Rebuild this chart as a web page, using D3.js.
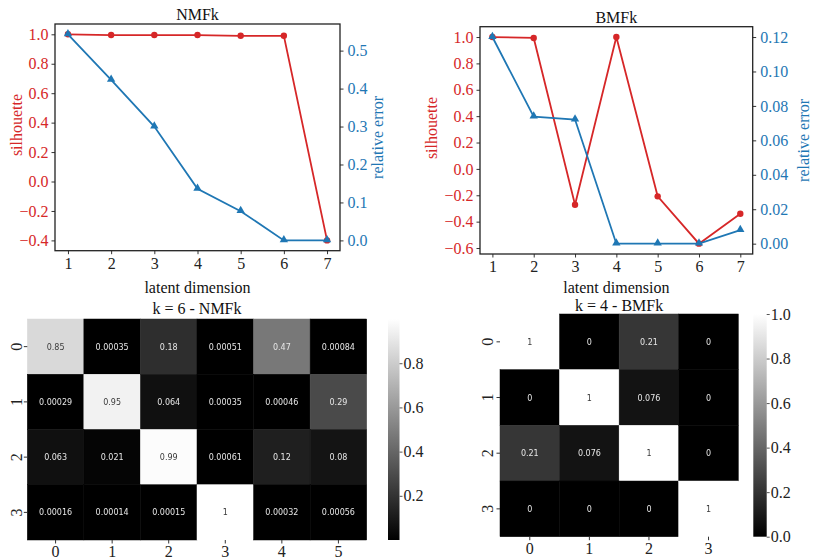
<!DOCTYPE html>
<html lang="en">
<head>
<meta charset="utf-8">
<title>NMFk vs BMFk</title>
<script src="https://cdn.jsdelivr.net/npm/d3@7"></script>
<style>
body { margin: 0; background: #fff; }
</style>
</head>
<body>
<script>
var W = 813, H = 559;
var RED = "#d62728", BLUE = "#1f77b4";
var FS = 16; // label font size

// data
var dims = [1, 2, 3, 4, 5, 6, 7];
var nmfSil = [1.0, 0.995, 0.995, 0.995, 0.99, 0.99, -0.40];
var nmfErr = [0.543, 0.423, 0.300, 0.136, 0.077, 0.0, 0.0];
var bmfSil = [1.0, 0.993, -0.272, 1.0, -0.208, -0.567, -0.34];
var bmfErr = [0.12, 0.0738, 0.0721, 0.0, 0.0, 0.0, 0.0079];

var nmfRows = ["0", "1", "2", "3"];
var nmfCols = ["0", "1", "2", "3", "4", "5"];
var nmfVals = [
  [0.85, 0.00035, 0.18, 0.00051, 0.47, 0.00084],
  [0.00029, 0.95, 0.064, 0.00035, 0.00046, 0.29],
  [0.063, 0.021, 0.99, 0.00061, 0.12, 0.08],
  [0.00016, 0.00014, 0.00015, 1, 0.00032, 0.00056]
];
var nmfLabels = [
  ["0.85", "0.00035", "0.18", "0.00051", "0.47", "0.00084"],
  ["0.00029", "0.95", "0.064", "0.00035", "0.00046", "0.29"],
  ["0.063", "0.021", "0.99", "0.00061", "0.12", "0.08"],
  ["0.00016", "0.00014", "0.00015", "1", "0.00032", "0.00056"]
];
var bmfRows = ["0", "1", "2", "3"];
var bmfCols = ["0", "1", "2", "3"];
var bmfVals = [
  [1, 0, 0.21, 0],
  [0, 1, 0.076, 0],
  [0.21, 0.076, 1, 0],
  [0, 0, 0, 1]
];
var bmfLabels = [
  ["1", "0", "0.21", "0"],
  ["0", "1", "0.076", "0"],
  ["0.21", "0.076", "1", "0"],
  ["0", "0", "0", "1"]
];
var silTicksA = [-0.4, -0.2, 0.0, 0.2, 0.4, 0.6, 0.8, 1.0];
var errTicksA = [0.0, 0.1, 0.2, 0.3, 0.4, 0.5];
var silTicksB = [-0.6, -0.4, -0.2, 0.0, 0.2, 0.4, 0.6, 0.8, 1.0];
var errTicksB = [0.0, 0.02, 0.04, 0.06, 0.08, 0.10, 0.12];

var svg = d3.select("body").append("svg")
  .attr("width", W).attr("height", H)
  .attr("font-family", "Liberation Serif, Times New Roman, serif");

function padDomain(arr) {
  var lo = d3.min(arr), hi = d3.max(arr), m = (hi - lo) * 0.05;
  return [lo - m, hi + m];
}

function lineChart(o) {
  var g = svg.append("g");
  var x = d3.scaleLinear().domain(padDomain(dims)).range([o.x0, o.x1]);
  var yl = d3.scaleLinear().domain(padDomain(o.sil)).range([o.y1, o.y0]);
  var yr = d3.scaleLinear().domain(padDomain(o.err)).range([o.y1, o.y0]);

  // axes
  var ax = g.append("g").attr("transform", "translate(0," + o.y1 + ")")
    .call(d3.axisBottom(x).tickValues(dims).tickSize(3.5).tickPadding(3).tickFormat(d3.format("d")));
  var al = g.append("g").attr("transform", "translate(" + o.x0 + ",0)")
    .call(d3.axisLeft(yl).tickValues(o.silTicks).tickSize(3.5).tickPadding(3).tickFormat(d3.format(".1f")));
  var ar = g.append("g").attr("transform", "translate(" + o.x1 + ",0)")
    .call(d3.axisRight(yr).tickValues(o.errTicks).tickSize(3.5).tickPadding(4).tickFormat(d3.format(o.errFmt)));
  [ax, al, ar].forEach(function (a) {
    a.select(".domain").remove();
    a.selectAll("line").attr("stroke", "#333");
    a.selectAll("text").attr("font-family", "Liberation Serif").attr("font-size", FS);
  });
  ax.selectAll("text").attr("fill", "#222");
  al.selectAll("text").attr("fill", RED);
  ar.selectAll("text").attr("fill", BLUE);

  g.append("rect").attr("x", o.x0).attr("y", o.y0)
    .attr("width", o.x1 - o.x0).attr("height", o.y1 - o.y0)
    .attr("fill", "none").attr("stroke", "#222").attr("stroke-width", 1.3);

  // lines
  var silLine = d3.line().x(function (d, i) { return x(dims[i]); }).y(function (d) { return yl(d); });
  var errLine = d3.line().x(function (d, i) { return x(dims[i]); }).y(function (d) { return yr(d); });
  g.append("path").datum(o.sil).attr("d", silLine)
    .attr("fill", "none").attr("stroke", RED).attr("stroke-width", 1.8);
  g.selectAll(".sil").data(o.sil).enter().append("circle")
    .attr("cx", function (d, i) { return x(dims[i]); })
    .attr("cy", function (d) { return yl(d); })
    .attr("r", 3.2).attr("fill", RED);
  g.append("path").datum(o.err).attr("d", errLine)
    .attr("fill", "none").attr("stroke", BLUE).attr("stroke-width", 1.8);
  g.selectAll(".err").data(o.err).enter().append("path")
    .attr("d", d3.symbol().type(d3.symbolTriangle).size(30))
    .attr("transform", function (d, i) { return "translate(" + x(dims[i]) + "," + (yr(d) - 0.5) + ")"; })
    .attr("fill", BLUE);

  // labels
  g.append("text").attr("x", (o.x0 + o.x1) / 2).attr("y", o.y0 - 4)
    .attr("text-anchor", "middle").attr("font-size", FS).attr("fill", "#111").text(o.title);
  g.append("text").attr("x", (o.x0 + o.x1) / 2).attr("y", 293)
    .attr("text-anchor", "middle").attr("font-size", FS).attr("fill", "#111").text("latent dimension");
  g.append("text").attr("transform", "translate(" + o.silX + "," + o.silY + ") rotate(-90)")
    .attr("text-anchor", "middle").attr("font-size", FS).attr("fill", RED).text("silhouette");
  g.append("text").attr("transform", "translate(" + o.errX + "," + ((o.y0 + o.y1) / 2) + ") rotate(-90)")
    .attr("text-anchor", "middle").attr("font-size", FS).attr("fill", BLUE).text("relative error");
}

lineChart({ title: "NMFk", sil: nmfSil, err: nmfErr, silTicks: silTicksA, errTicks: errTicksA,
  errFmt: ".1f", x0: 55, x1: 340, y0: 24, y1: 250.7, silX: 22, silY: 125, errX: 383 });
lineChart({ title: "BMFk", sil: bmfSil, err: bmfErr, silTicks: silTicksB, errTicks: errTicksB,
  errFmt: ".2f", x0: 480, x1: 752.7, y0: 26.7, y1: 254, silX: 437, silY: 128, errX: 809 });

function heatmap(o) {
  var g = svg.append("g");
  var x = d3.scaleBand().domain(o.cols).range([o.x0, o.x1]);
  var y = d3.scaleBand().domain(o.rows).range([o.y0, o.y1]);
  var flat = d3.merge(o.vals);
  var vmin = d3.min(flat), vmax = d3.max(flat);
  var c = d3.scaleLinear().domain([vmin, vmax]).range([0, 1]);
  function gray(v) { var k = Math.round(c(v) * 255); return d3.rgb(k, k, k).toString(); }

  var cells = g.append("g");
  var notes = g.append("g").style("filter", "grayscale(100%)");
  o.vals.forEach(function (row, ri) {
    cells.selectAll(".r" + ri).data(row).enter().append("rect")
      .attr("class", "r" + ri)
      .attr("x", function (d, ci) { return x(o.cols[ci]); })
      .attr("y", y(o.rows[ri]))
      .attr("width", x.bandwidth()).attr("height", y.bandwidth())
      .attr("fill", gray).attr("stroke", gray).attr("stroke-width", 0.5);
    notes.selectAll(".t" + ri).data(row).enter().append("text")
      .attr("class", "t" + ri)
      .attr("x", function (d, ci) { return x(o.cols[ci]) + x.bandwidth() / 2; })
      .attr("y", y(o.rows[ri]) + y.bandwidth() / 2 + 3)
      .attr("text-anchor", "middle")
      .attr("font-family", "DejaVu Sans").attr("font-size", 8)
      .attr("fill", function (d) { return c(d) > 0.62 ? "#3a3a3a" : "#e6e6e6"; })
      .text(function (d, ci) { return o.labels[ri][ci]; });
  });

  var ax = g.append("g").attr("transform", "translate(0," + o.y1 + ")")
    .call(d3.axisBottom(x).tickSize(3.5).tickPadding(2));
  var ay = g.append("g").attr("transform", "translate(" + o.x0 + ",0)")
    .call(d3.axisLeft(y).tickSize(3.5).tickPadding(3));
  [ax, ay].forEach(function (a) {
    a.select(".domain").remove();
    a.selectAll("line").attr("stroke", "#333");
    a.selectAll("text").attr("font-family", "Liberation Serif").attr("font-size", FS).attr("fill", "#222");
  });
  // vertical row labels, baseline placed just left of the tick marks
  ay.selectAll("text").attr("text-anchor", "middle").attr("dy", null).attr("x", null).attr("y", null)
    .attr("transform", "translate(" + o.labOff + ",0) rotate(-90)");

  g.append("text").attr("x", (o.x0 + o.x1) / 2).attr("y", o.titleY)
    .attr("text-anchor", "middle").attr("font-size", FS).attr("fill", "#111").text(o.title);

  // colorbar
  var gid = "grad" + o.id;
  var grad = svg.append("defs").append("linearGradient").attr("id", gid)
    .attr("x1", 0).attr("y1", 1).attr("x2", 0).attr("y2", 0);
  grad.append("stop").attr("offset", 0).attr("stop-color", "#000");
  grad.append("stop").attr("offset", 1).attr("stop-color", "#fff");
  g.append("rect").attr("x", o.cbX).attr("y", o.y0).attr("width", o.cbW).attr("height", o.y1 - o.y0)
    .attr("fill", "url(#" + gid + ")");
  var cy = d3.scaleLinear().domain([vmin, vmax]).range([o.y1, o.y0]);
  var ac = g.append("g").attr("transform", "translate(" + (o.cbX + o.cbW) + ",0)")
    .call(d3.axisRight(cy).tickValues(o.cbTicks).tickSize(3).tickPadding(1).tickFormat(d3.format(".1f")));
  ac.select(".domain").remove();
  ac.selectAll("line").attr("stroke", "#555");
  ac.selectAll("text").attr("font-family", "Liberation Serif").attr("font-size", FS).attr("fill", "#222");
}

heatmap({ id: "a", title: "k = 6 - NMFk", rows: nmfRows, cols: nmfCols, vals: nmfVals, labels: nmfLabels,
  x0: 27.3, x1: 366.7, y0: 319, y1: 540, titleY: 314, labOff: -5.5, cbX: 388, cbW: 11.5, cbTicks: [0.2, 0.4, 0.6, 0.8] });
heatmap({ id: "b", title: "k = 4 - BMFk", rows: bmfRows, cols: bmfCols, vals: bmfVals, labels: bmfLabels,
  x0: 500, x1: 738.3, y0: 314, y1: 536.7, titleY: 310.5, labOff: -7.5, cbX: 753.3, cbW: 13.4, cbTicks: [0.0, 0.2, 0.4, 0.6, 0.8, 1.0] });
</script>
</body>
</html>
